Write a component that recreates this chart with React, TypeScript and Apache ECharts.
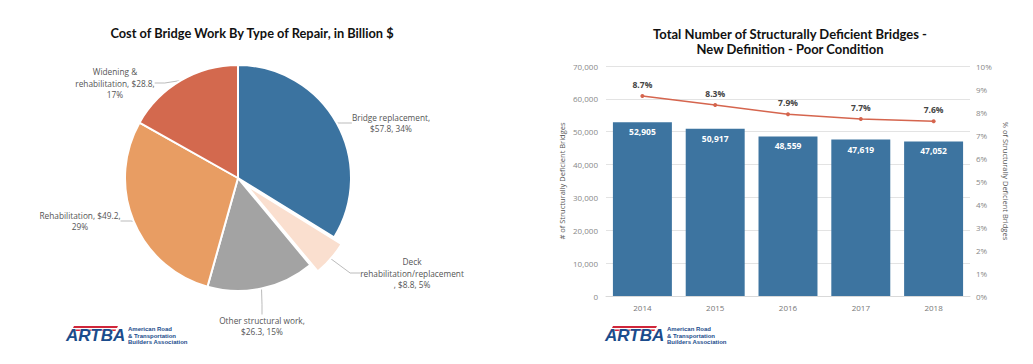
import React, { useEffect, useRef } from 'react';
import * as echarts from 'echarts';

// ---- Left: cost of bridge work by type of repair ----
const repairTypes = [
  'Bridge replacement',
  'Deck\nrehabilitation/replacement',
  'Other structural work',
  'Rehabilitation',
  'Widening &\nrehabilitation',
];
const repairCostBillions = [57.8, 8.8, 26.3, 49.2, 28.8];
const repairColors = ['#3B73A0', '#FADFCF', '#A3A3A3', '#E89D63', '#D3694E'];
const repairLabelTemplates = [
  '{n},\n${v}, {p}%',
  '{n}\n, ${v}, {p}%',
  '{n},\n${v}, {p}%',
  '{n}, ${v},\n{p}%',
  '{n}, ${v},\n{p}%',
];
const repairLabelPos = [
  [391, 123],
  [412, 273],
  [262, 326],
  [80, 221],
  [115, 83],
];
const explodedIndex = 1;

// ---- Right: structurally deficient bridges ----
const years = ['2014', '2015', '2016', '2017', '2018'];
const deficientBridges = [52905, 50917, 48559, 47619, 47052];
const deficientPct = [8.7, 8.3, 7.9, 7.7, 7.6];

const FONT = '"Open Sans", "Noto Sans", sans-serif';
const TITLE_FONT = 'Lato, "Open Sans", sans-serif';
const PIE_CENTER = [238, 178];
const EXPLODE = 10;

function logo(x: number, y: number) {
  return {
    type: 'group',
    x,
    y,
    children: [
      { type: 'polygon', shape: { points: [[8, 0], [52, 0], [51, 2], [7, 2]] }, style: { fill: '#D0263A' } },
      { type: 'polygon', shape: { points: [[6, 3.5], [50, 3.5], [49.5, 5], [5.5, 5]] }, style: { fill: '#D0263A' } },
      {
        type: 'text',
        x: 0,
        y: 1,
        style: {
          text: 'ARTBA',
          fontSize: 17,
          fontWeight: 900,
          fontStyle: 'italic',
          fontFamily: 'Arial, "Liberation Sans", sans-serif',
          fill: '#1B4C8C',
          stroke: '#ffffff',
          lineWidth: 0.6,
        },
      },
      {
        type: 'text',
        x: 62,
        y: 0,
        style: {
          text: 'American Road\n& Transportation\nBuilders Association',
          fontSize: 6,
          lineHeight: 6.5,
          fontWeight: 'bold',
          fontFamily: 'Arial, "Liberation Sans", sans-serif',
          fill: '#1B4C8C',
        },
      },
    ],
  };
}

export default function App() {
  const ref = useRef<HTMLDivElement>(null);
  useEffect(() => {
    if (!ref.current) return;
    const chart = echarts.init(ref.current, undefined, { renderer: 'svg' });

    const total = repairCostBillions.reduce((a, b) => a + b, 0);
    const before = repairCostBillions.slice(0, explodedIndex).reduce((a, b) => a + b, 0);
    const midAngle = ((before + repairCostBillions[explodedIndex] / 2) / total) * Math.PI * 2;
    const explodedCenter = [
      PIE_CENTER[0] + Math.sin(midAngle) * EXPLODE,
      PIE_CENTER[1] - Math.cos(midAngle) * EXPLODE,
    ];

    const hidden = {
      itemStyle: { color: 'rgba(0,0,0,0)', borderWidth: 0 },
      label: { show: false },
      labelLine: { show: false },
    };
    const mainData = repairTypes.map((n, i) =>
      i === explodedIndex
        ? { name: n, value: repairCostBillions[i], ...hidden }
        : { name: n, value: repairCostBillions[i], itemStyle: { color: repairColors[i] } }
    );
    const explodedData = repairTypes.map((n, i) =>
      i === explodedIndex
        ? { name: n, value: repairCostBillions[i], itemStyle: { color: repairColors[i] } }
        : { name: n, value: repairCostBillions[i], ...hidden }
    );

    const pieLabel = {
      show: true,
      position: 'outside',
      color: '#555',
      fontSize: 8.3,
      lineHeight: 11.5,
      fontFamily: FONT,
      align: 'center',
      formatter: (p: any) =>
        repairLabelTemplates[p.dataIndex]
          .replace('{n}', p.name)
          .replace('{v}', String(p.value))
          .replace('{p}', String(Math.round(p.percent))),
    };
    const pieBase = {
      type: 'pie',
      radius: 113,
      startAngle: 90,
      clockwise: true,
      percentPrecision: 0,
      itemStyle: { borderColor: '#fff', borderWidth: 2 },
      label: pieLabel,
      labelLine: { show: true, length: 8, length2: 10, lineStyle: { color: '#AAAAAA', width: 0.8 } },
      labelLayout: (p: any) => ({
        x: repairLabelPos[p.dataIndex][0],
        y: repairLabelPos[p.dataIndex][1],
        align: 'center',
        verticalAlign: 'middle',
      }),
      emphasis: { disabled: true },
      silent: true,
    };

    chart.setOption({
      animation: false,
      backgroundColor: '#ffffff',
      title: [
        {
          text: 'Cost of Bridge Work By Type of Repair, in Billion $',
          left: 247,
          top: 21,
          textAlign: 'center',
          textStyle: { fontFamily: TITLE_FONT, fontWeight: 'bold', fontSize: 12.8, color: '#111' },
        },
        {
          text: 'Total Number of Structurally Deficient Bridges -\nNew Definition - Poor Condition',
          left: 785,
          top: 21,
          textAlign: 'center',
          textStyle: { fontFamily: TITLE_FONT, fontWeight: 'bold', fontSize: 13, lineHeight: 15, color: '#111' },
        },
      ],
      grid: { left: 606, right: 63, top: 66, bottom: 68, containLabel: false },
      xAxis: {
        type: 'category',
        data: years,
        axisTick: { show: false },
        axisLine: { lineStyle: { color: '#D9D9D9' } },
        axisLabel: { color: '#777', fontSize: 8, fontFamily: FONT, margin: 7 },
      },
      yAxis: [
        {
          type: 'value',
          min: 0,
          max: 70000,
          interval: 10000,
          name: '# of Structurally Deficient Bridges',
          nameLocation: 'middle',
          nameGap: 40,
          nameTextStyle: { color: '#555', fontSize: 7.5, fontFamily: FONT },
          axisLabel: {
            color: '#888',
            fontSize: 8,
            fontFamily: FONT,
            margin: 8,
            formatter: (v: number) => v.toLocaleString('en-US'),
          },
          splitLine: { lineStyle: { color: '#E3E3E3' } },
          axisLine: { show: false },
          axisTick: { show: false },
        },
        {
          type: 'value',
          min: 0,
          max: 10,
          interval: 1,
          name: '% of Structurally Deficient Bridges',
          nameLocation: 'middle',
          nameGap: 32,
          nameRotate: -90,
          nameTextStyle: { color: '#555', fontSize: 7.5, fontFamily: FONT },
          axisLabel: { color: '#888', fontSize: 8, fontFamily: FONT, margin: 6, formatter: '{value}%' },
          splitLine: { show: false },
          axisLine: { show: false },
          axisTick: { show: false },
        },
      ],
      series: [
        { ...pieBase, center: PIE_CENTER, data: mainData },
        { ...pieBase, center: explodedCenter, data: explodedData },
        {
          type: 'bar',
          data: deficientBridges,
          barCategoryGap: '19%',
          itemStyle: { color: '#3D74A0' },
          label: {
            show: true,
            position: 'insideTop',
            distance: 5,
            color: '#fff',
            fontWeight: 'bold',
            fontSize: 8.5,
            fontFamily: FONT,
            formatter: (p: any) => Number(p.value).toLocaleString('en-US'),
          },
        },
        {
          type: 'line',
          yAxisIndex: 1,
          data: deficientPct,
          symbol: 'circle',
          symbolSize: 4,
          itemStyle: { color: '#D5654E' },
          lineStyle: { color: '#D5654E', width: 1.5 },
          label: {
            show: true,
            position: 'top',
            distance: 5,
            color: '#444',
            fontWeight: 'bold',
            fontSize: 8.5,
            fontFamily: FONT,
            formatter: '{c}%',
          },
        },
      ],
      graphic: [logo(66, 326), logo(605, 326)],
    });
    return () => chart.dispose();
  }, []);
  return (
    <div
      ref={ref}
      style={{ position: 'absolute', left: 0, top: 0, width: 1033, height: 364 }}
    />
  );
}
